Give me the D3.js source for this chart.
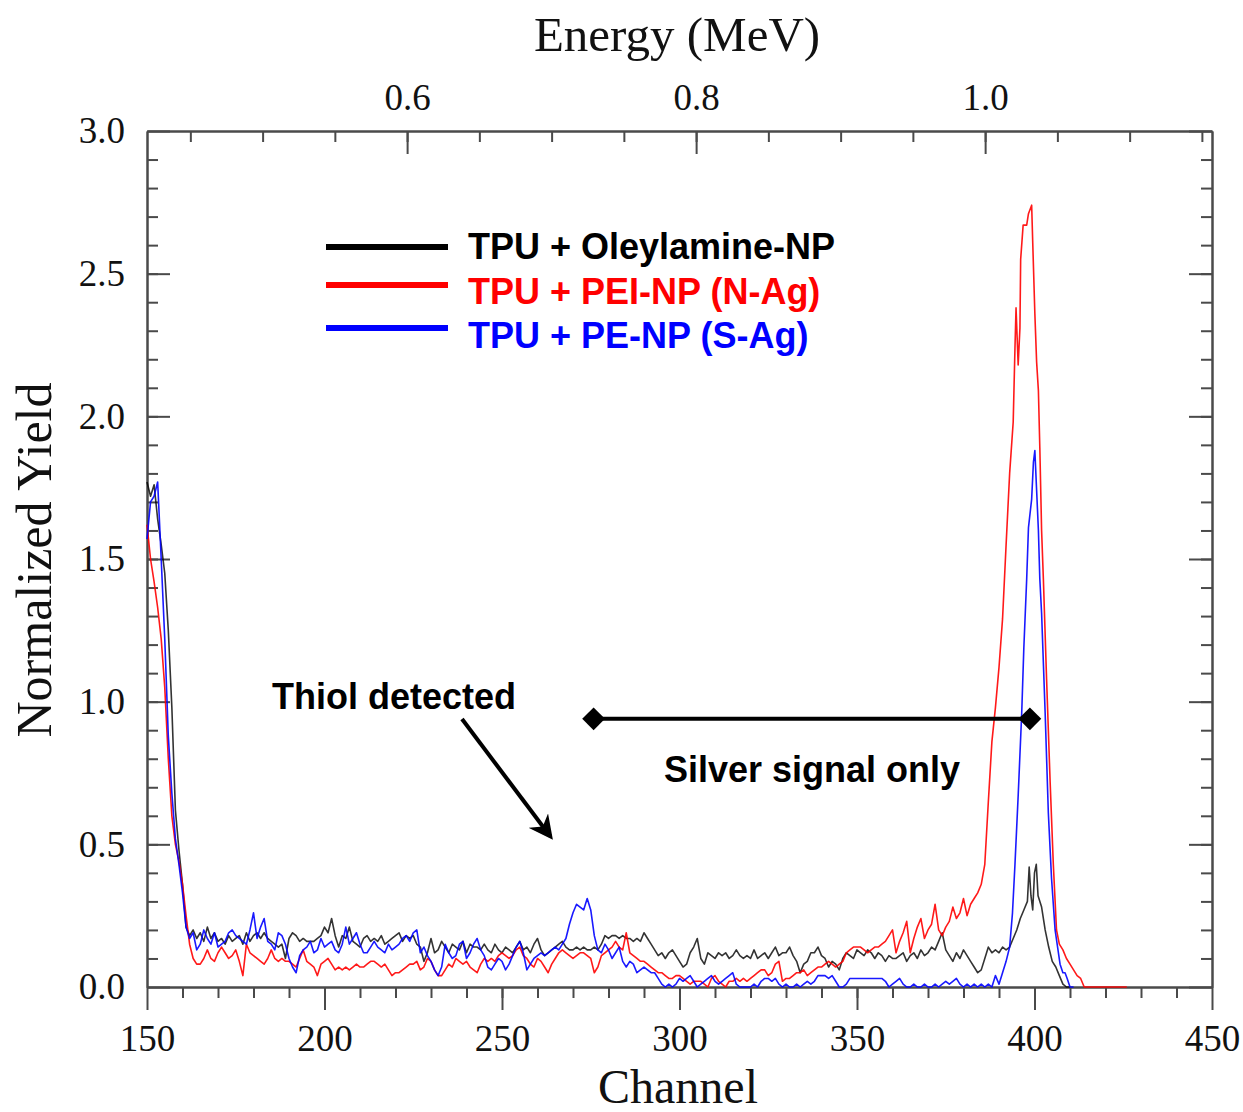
<!DOCTYPE html>
<html>
<head>
<meta charset="utf-8">
<script src="https://cdn.jsdelivr.net/npm/d3@7"></script>
<style>
  body { margin: 0; background: #fff; }
  svg { display: block; }
</style>
</head>
<body>
<div id="chart"></div>
<script>
// channel ranges / tick values
var channelDomain = [150, 450];
var yieldDomain = [0, 3];
var energyDomain = [0.42, 1.157];
var channelTicks = [150, 200, 250, 300, 350, 400, 450];
var yieldTicks = [0, 0.5, 1, 1.5, 2, 2.5, 3];
var energyTicks = [0.6, 0.8, 1.0];

var seriesNames = ['TPU + Oleylamine-NP', 'TPU + PEI-NP (N-Ag)', 'TPU + PE-NP (S-Ag)'];
var seriesColors = ['#000000', '#ff0000', '#0000ff'];

// [channel, normalized yield]
var oleylamine = [
  [150,1.77],[151,1.72],[152,1.76],[153,1.64],[154,1.55],[155,1.45],[156,1.25],[157,0.98],[158,0.62],[159,0.48],
  [160,0.36],[161,0.21],[162,0.18],[163,0.20],[164,0.17],[165,0.19],[166,0.16],[167,0.21],[168,0.17],[169,0.19],
  [170,0.16],[171,0.17],[172,0.15],[173,0.18],[174,0.16],[175,0.17],[176,0.18],[177,0.15],[178,0.19],[179,0.16],
  [180,0.18],[181,0.19],[182,0.17],[183,0.19],[184,0.17],[185,0.16],[186,0.15],[187,0.14],[188,0.15],[189,0.10],
  [190,0.17],[191,0.19],[192,0.18],[193,0.16],[194,0.17],[195,0.16],[196,0.16],[197,0.16],[198,0.17],[199,0.18],
  [200,0.21],[201,0.19],[202,0.24],[203,0.18],[204,0.14],[205,0.18],[206,0.17],[207,0.21],[208,0.16],[209,0.15],
  [210,0.14],[211,0.17],[212,0.18],[213,0.16],[214,0.17],[215,0.16],[216,0.18],[217,0.15],[218,0.16],[219,0.17],
  [220,0.18],[221,0.19],[222,0.16],[223,0.18],[224,0.17],[225,0.18],[226,0.15],[227,0.14],[228,0.09],[229,0.12],
  [230,0.17],[231,0.12],[232,0.13],[233,0.16],[234,0.14],[235,0.12],[236,0.15],[237,0.14],[238,0.13],[239,0.16],
  [240,0.12],[241,0.15],[242,0.14],[243,0.14],[244,0.13],[245,0.15],[246,0.13],[247,0.12],[248,0.15],[249,0.13],
  [250,0.12],[251,0.14],[252,0.13],[253,0.12],[254,0.14],[255,0.16],[256,0.13],[257,0.14],[258,0.12],[259,0.15],
  [260,0.17],[261,0.13],[262,0.11],[263,0.12],[264,0.13],[265,0.14],[266,0.15],[267,0.16],[268,0.14],[269,0.13],
  [270,0.13],[271,0.14],[272,0.13],[273,0.14],[274,0.13],[275,0.13],[276,0.14],[277,0.13],[278,0.15],[279,0.18],
  [280,0.17],[281,0.18],[282,0.18],[283,0.17],[284,0.18],[285,0.17],[286,0.17],[287,0.16],[288,0.17],[289,0.16],
  [290,0.19],[291,0.17],[292,0.15],[293,0.13],[294,0.11],[295,0.12],[296,0.10],[297,0.12],[298,0.13],[299,0.11],
  [300,0.09],[301,0.07],[302,0.08],[303,0.12],[304,0.14],[305,0.17],[306,0.10],[307,0.08],[308,0.12],[309,0.11],
  [310,0.10],[311,0.12],[312,0.11],[313,0.12],[314,0.10],[315,0.11],[316,0.13],[317,0.11],[318,0.10],[319,0.11],
  [320,0.10],[321,0.13],[322,0.10],[323,0.11],[324,0.12],[325,0.10],[326,0.12],[327,0.14],[328,0.11],[329,0.12],
  [330,0.12],[331,0.14],[332,0.11],[333,0.09],[334,0.05],[335,0.08],[336,0.09],[337,0.12],[338,0.12],[339,0.14],
  [340,0.11],[341,0.10],[342,0.07],[343,0.09],[344,0.08],[345,0.06],[346,0.10],[347,0.12],[348,0.11],[349,0.10],
  [350,0.13],[351,0.12],[352,0.11],[353,0.13],[354,0.12],[355,0.10],[356,0.12],[357,0.11],[358,0.09],[359,0.11],
  [360,0.10],[361,0.10],[362,0.11],[363,0.12],[364,0.09],[365,0.11],[366,0.12],[367,0.10],[368,0.13],[369,0.11],
  [370,0.12],[371,0.14],[372,0.13],[373,0.16],[374,0.19],[375,0.13],[376,0.11],[377,0.09],[378,0.12],[379,0.10],
  [380,0.13],[381,0.11],[382,0.09],[383,0.07],[384,0.05],[385,0.06],[386,0.10],[387,0.14],[388,0.12],[389,0.13],
  [390,0.12],[391,0.14],[392,0.13],[393,0.14],[394,0.17],[395,0.20],[396,0.24],[397,0.27],[398,0.30],[398.5,0.42],
  [399,0.32],[399.5,0.27],[400,0.40],[400.5,0.43],[401,0.32],[402,0.28],[403,0.20],[404,0.14],[405,0.09],[406,0.07],
  [407,0.04],[408,0.01],[409,0.0],[410,0.0]
];

var peiNP = [
  [150,1.62],[151,1.50],[152,1.42],[153,1.33],[154,1.22],[155,1.05],[156,0.80],[157,0.60],[158,0.50],[159,0.44],
  [160,0.36],[161,0.25],[162,0.15],[163,0.10],[164,0.08],[165,0.08],[166,0.10],[167,0.13],[168,0.10],[169,0.09],
  [170,0.12],[171,0.14],[172,0.12],[173,0.10],[174,0.11],[175,0.13],[176,0.09],[177,0.04],[178,0.15],[179,0.12],
  [180,0.11],[181,0.10],[182,0.09],[183,0.08],[184,0.10],[185,0.13],[186,0.10],[187,0.09],[188,0.10],[189,0.09],
  [190,0.09],[191,0.08],[192,0.07],[193,0.10],[194,0.13],[195,0.09],[196,0.08],[197,0.07],[198,0.04],[199,0.08],
  [200,0.09],[201,0.10],[202,0.08],[203,0.06],[204,0.07],[205,0.06],[206,0.07],[207,0.06],[208,0.07],[209,0.08],
  [210,0.07],[211,0.07],[212,0.08],[213,0.09],[214,0.09],[215,0.08],[216,0.07],[217,0.08],[218,0.06],[219,0.04],
  [220,0.05],[221,0.05],[222,0.06],[223,0.07],[224,0.08],[225,0.08],[226,0.09],[227,0.06],[228,0.07],[229,0.10],
  [230,0.09],[231,0.06],[232,0.04],[233,0.04],[234,0.06],[235,0.08],[236,0.07],[237,0.10],[238,0.09],[239,0.08],
  [240,0.09],[241,0.07],[242,0.06],[243,0.05],[244,0.08],[245,0.10],[246,0.09],[247,0.10],[248,0.09],[249,0.11],
  [250,0.12],[251,0.11],[252,0.10],[253,0.11],[254,0.13],[255,0.14],[256,0.11],[257,0.10],[258,0.08],[259,0.07],
  [260,0.10],[261,0.09],[262,0.07],[263,0.05],[264,0.08],[265,0.10],[266,0.12],[267,0.13],[268,0.12],[269,0.11],
  [270,0.10],[271,0.11],[272,0.12],[273,0.12],[274,0.11],[275,0.10],[276,0.05],[277,0.07],[278,0.11],[279,0.12],
  [280,0.13],[281,0.14],[282,0.16],[283,0.14],[284,0.13],[285,0.19],[286,0.12],[287,0.11],[288,0.10],[289,0.09],
  [290,0.09],[291,0.08],[292,0.07],[293,0.06],[294,0.05],[295,0.05],[296,0.04],[297,0.03],[298,0.03],[299,0.04],
  [300,0.04],[301,0.03],[302,0.02],[303,0.01],[304,0.02],[305,0.02],[306,0.02],[307,0.01],[308,0.0],[309,0.03],
  [310,0.04],[311,0.02],[312,0.01],[313,0.0],[314,0.02],[315,0.02],[316,0.03],[317,0.02],[318,0.03],[319,0.02],
  [320,0.03],[321,0.04],[322,0.05],[323,0.06],[324,0.06],[325,0.04],[326,0.05],[327,0.08],[328,0.09],[329,0.02],
  [330,0.03],[331,0.03],[332,0.04],[333,0.05],[334,0.05],[335,0.06],[336,0.04],[337,0.05],[338,0.06],[339,0.07],
  [340,0.07],[341,0.08],[342,0.09],[343,0.08],[344,0.07],[345,0.08],[346,0.09],[347,0.12],[348,0.13],[349,0.14],
  [350,0.14],[351,0.14],[352,0.13],[353,0.12],[354,0.13],[355,0.14],[356,0.14],[357,0.15],[358,0.16],[359,0.18],
  [360,0.20],[361,0.12],[362,0.16],[363,0.19],[364,0.23],[365,0.12],[366,0.17],[367,0.21],[368,0.24],[369,0.17],
  [370,0.20],[371,0.22],[372,0.29],[373,0.20],[374,0.18],[375,0.21],[376,0.23],[377,0.28],[378,0.24],[379,0.26],
  [380,0.31],[381,0.25],[382,0.29],[383,0.31],[384,0.33],[385,0.36],[386,0.43],[387,0.65],[388,0.86],[389,0.98],
  [390,1.12],[391,1.29],[392,1.55],[393,1.80],[394,1.98],[394.5,2.24],[394.8,2.38],[395.4,2.18],[395.9,2.31],[396.1,2.55],
  [396.8,2.67],[397.8,2.67],[398.3,2.71],[399.2,2.74],[399.5,2.61],[400.1,2.36],[400.6,2.19],[401.1,2.09],[401.5,1.89],[402,1.60],
  [402.5,1.43],[403.4,1.08],[404.4,0.72],[405.3,0.43],[406.2,0.20],[407,0.15],[408,0.13],[409,0.10],[410,0.08],[411,0.06],
  [412,0.04],[413,0.03],[414,0.0],[420,0.0],[426,0.0]
];

var peNP = [
  [150,1.57],[151,1.70],[152,1.72],[153,1.77],[154,1.50],[155,1.22],[156,0.88],[157,0.68],[158,0.52],[159,0.43],
  [160,0.33],[161,0.21],[162,0.17],[163,0.19],[164,0.13],[165,0.15],[166,0.20],[167,0.17],[168,0.15],[169,0.19],
  [170,0.14],[171,0.15],[172,0.16],[173,0.19],[174,0.20],[175,0.18],[176,0.17],[177,0.16],[178,0.15],[179,0.20],
  [180,0.26],[181,0.17],[182,0.21],[183,0.24],[184,0.16],[185,0.15],[186,0.13],[187,0.19],[188,0.18],[189,0.15],
  [190,0.10],[191,0.07],[192,0.05],[193,0.11],[194,0.13],[195,0.14],[196,0.16],[197,0.12],[198,0.13],[199,0.17],
  [200,0.14],[201,0.15],[202,0.16],[203,0.13],[204,0.12],[205,0.15],[206,0.21],[207,0.15],[208,0.17],[209,0.19],
  [210,0.15],[211,0.12],[212,0.12],[213,0.14],[214,0.16],[215,0.14],[216,0.13],[217,0.12],[218,0.15],[219,0.13],
  [220,0.14],[221,0.15],[222,0.17],[223,0.18],[224,0.16],[225,0.19],[226,0.20],[227,0.12],[228,0.14],[229,0.11],
  [230,0.09],[231,0.06],[232,0.04],[233,0.07],[234,0.15],[235,0.12],[236,0.10],[237,0.11],[238,0.15],[239,0.16],
  [240,0.10],[241,0.12],[242,0.15],[243,0.17],[244,0.13],[245,0.11],[246,0.07],[247,0.06],[248,0.08],[249,0.10],
  [250,0.09],[251,0.06],[252,0.08],[253,0.11],[254,0.14],[255,0.16],[256,0.12],[257,0.06],[258,0.08],[259,0.10],
  [260,0.11],[261,0.12],[262,0.11],[263,0.12],[264,0.13],[265,0.14],[266,0.13],[267,0.15],[268,0.17],[269,0.22],
  [270,0.26],[271,0.29],[272,0.28],[273,0.27],[274,0.31],[275,0.27],[276,0.18],[277,0.13],[278,0.12],[279,0.15],
  [280,0.13],[281,0.10],[282,0.12],[283,0.14],[284,0.09],[285,0.07],[286,0.09],[287,0.08],[288,0.05],[289,0.06],
  [290,0.07],[291,0.06],[292,0.05],[293,0.05],[294,0.03],[295,0.01],[296,0.0],[297,0.01],[298,0.0],[299,0.01],
  [300,0.03],[301,0.02],[302,0.03],[303,0.04],[304,0.02],[305,0.0],[306,0.01],[307,0.02],[308,0.03],[309,0.04],
  [310,0.02],[311,0.01],[312,0.02],[313,0.03],[314,0.04],[315,0.05],[316,0.01],[317,0.0],[318,0.0],[319,0.0],
  [320,0.0],[321,0.01],[322,0.0],[323,0.02],[324,0.03],[325,0.03],[326,0.02],[327,0.03],[328,0.01],[329,0.0],
  [330,0.01],[331,0.0],[332,0.0],[333,0.01],[334,0.0],[335,0.01],[336,0.02],[337,0.01],[338,0.02],[339,0.04],
  [340,0.04],[341,0.04],[342,0.03],[343,0.04],[344,0.02],[345,0.0],[346,0.0],[347,0.01],[348,0.03],[349,0.03],
  [350,0.03],[351,0.03],[352,0.03],[353,0.03],[354,0.03],[355,0.03],[356,0.03],[357,0.03],[358,0.02],[359,0.0],
  [360,0.01],[361,0.02],[362,0.03],[363,0.01],[364,0.0],[365,0.0],[366,0.01],[367,0.0],[368,0.0],[369,0.01],
  [370,0.0],[371,0.0],[372,0.01],[373,0.0],[374,0.01],[375,0.02],[376,0.01],[377,0.02],[378,0.03],[379,0.01],
  [380,0.0],[381,0.01],[382,0.0],[383,0.01],[384,0.0],[385,0.01],[386,0.0],[387,0.01],[388,0.0],[389,0.04],
  [390,0.01],[391,0.05],[392,0.09],[393,0.14],[393.8,0.26],[394.5,0.43],[395.4,0.67],[396.4,0.96],[397,1.19],[397.8,1.43],
  [398.3,1.61],[399.2,1.71],[399.7,1.84],[400.1,1.88],[400.6,1.74],[401.1,1.60],[401.5,1.43],[402,1.31],[403,0.96],[403.9,0.61],
  [404.8,0.38],[405.8,0.20],[407.2,0.08],[408,0.05],[408.6,0.05],[409.2,0.03],[410,0.0],[411,0.0]
];

var allSeries = [oleylamine, peiNP, peNP];

// annotation anchors, in data units
var silverBar = [[275.8, 0.94], [398.7, 0.94]];

var width = 1243, height = 1112;
var margin = { left: 147, right: 31, top: 131, bottom: 125 };

var svg = d3.select('#chart').append('svg')
  .attr('width', width)
  .attr('height', height);

var x = d3.scaleLinear().domain(channelDomain).range([margin.left, width - margin.right]);
var y = d3.scaleLinear().domain(yieldDomain).range([height - margin.bottom, margin.top]);
var xE = d3.scaleLinear().domain(energyDomain).range([margin.left, width - margin.right]);

var serif = "'Liberation Serif', 'Times New Roman', serif";
var sans = "'Liberation Sans', Arial, sans-serif";
var axisColor = '#4a4a4a';

var styleAxis = function(g) {
  g.selectAll('.domain').attr('stroke', axisColor).attr('stroke-width', 2);
  g.selectAll('.tick line').attr('stroke', axisColor).attr('stroke-width', 2);
  g.selectAll('.tick text')
    .attr('fill', '#111')
    .attr('font-family', serif)
    .attr('font-size', 37);
};

var range = function(a, b, step) {
  return d3.range(a, b + step / 2, step).map(function(v) { return +v.toFixed(3); });
};

// bottom axis (ticks outside)
svg.append('g')
  .attr('transform', 'translate(0,' + y(0) + ')')
  .call(d3.axisBottom(x).tickValues(range(160, 440, 10)).tickSize(11).tickSizeOuter(0).tickFormat(''))
  .call(styleAxis);
svg.append('g')
  .attr('transform', 'translate(0,' + y(0) + ')')
  .call(d3.axisBottom(x).tickValues(channelTicks).tickSize(23).tickSizeOuter(0).tickPadding(15).tickFormat(d3.format('d')))
  .call(styleAxis);

// left axis (ticks inside)
svg.append('g')
  .attr('transform', 'translate(' + x(150) + ',0)')
  .call(d3.axisLeft(y).tickValues(range(0.1, 2.9, 0.1)).tickSize(-11).tickSizeOuter(0).tickFormat(''))
  .call(styleAxis);
svg.append('g')
  .attr('transform', 'translate(' + x(150) + ',0)')
  .call(d3.axisLeft(y).tickValues(yieldTicks).tickSize(-23).tickSizeOuter(0).tickPadding(22).tickFormat(d3.format('.1f')))
  .call(styleAxis);

// right axis (ticks inside, no labels)
svg.append('g')
  .attr('transform', 'translate(' + x(450) + ',0)')
  .call(d3.axisLeft(y).tickValues(range(0.1, 2.9, 0.1)).tickSize(11).tickSizeOuter(0).tickFormat(''))
  .call(styleAxis);
svg.append('g')
  .attr('transform', 'translate(' + x(450) + ',0)')
  .call(d3.axisLeft(y).tickValues(yieldTicks).tickSize(23).tickSizeOuter(0).tickFormat(''))
  .call(styleAxis);

// top energy axis (ticks inside)
svg.append('g')
  .attr('transform', 'translate(0,' + y(3) + ')')
  .call(d3.axisTop(xE).tickValues(range(0.45, 1.15, 0.05)).tickSize(-11).tickSizeOuter(0).tickFormat(''))
  .call(styleAxis);
svg.append('g')
  .attr('transform', 'translate(0,' + y(3) + ')')
  .call(d3.axisTop(xE).tickValues(energyTicks).tickSize(-23).tickSizeOuter(0).tickPadding(21).tickFormat(d3.format('.1f')))
  .call(styleAxis);

// axis titles
svg.append('text')
  .attr('x', 677).attr('y', 51)
  .attr('text-anchor', 'middle')
  .attr('font-family', serif).attr('font-size', 49).attr('fill', '#111')
  .text('Energy (MeV)');

svg.append('text')
  .attr('x', 678).attr('y', 1103)
  .attr('text-anchor', 'middle')
  .attr('font-family', serif).attr('font-size', 48).attr('fill', '#111')
  .text('Channel');

svg.append('text')
  .attr('transform', 'translate(51,560) rotate(-90)')
  .attr('text-anchor', 'middle')
  .attr('font-family', serif).attr('font-size', 50).attr('fill', '#111')
  .text('Normalized Yield');

// data lines
var line = d3.line()
  .x(function(d) { return x(d[0]); })
  .y(function(d) { return y(d[1]); });

allSeries.forEach(function(s, i) {
  svg.append('path')
    .datum(s)
    .attr('fill', 'none')
    .attr('stroke', seriesColors[i])
    .attr('stroke-opacity', i === 0 ? 0.8 : 0.9)
    .attr('stroke-width', 1.6)
    .attr('stroke-linejoin', 'round')
    .attr('d', line);
});

// legend
var legendY = [247, 285, 328];
var legendTextY = [259, 304, 348];
seriesNames.forEach(function(name, i) {
  svg.append('line')
    .attr('x1', 326).attr('x2', 448)
    .attr('y1', legendY[i]).attr('y2', legendY[i])
    .attr('stroke', seriesColors[i])
    .attr('stroke-width', 6);
  svg.append('text')
    .attr('x', 468).attr('y', legendTextY[i])
    .attr('font-family', sans).attr('font-weight', 'bold').attr('font-size', 36)
    .attr('fill', seriesColors[i])
    .text(name);
});

// annotations
svg.append('defs').append('marker')
  .attr('id', 'arrow')
  .attr('viewBox', '0 0 10 10')
  .attr('refX', 8).attr('refY', 5)
  .attr('markerWidth', 6).attr('markerHeight', 6)
  .attr('orient', 'auto')
  .append('path')
  .attr('d', 'M0,0 L10,5 L0,10 L3,5 Z')
  .attr('fill', '#000');

svg.append('text')
  .attr('x', 272).attr('y', 709)
  .attr('font-family', sans).attr('font-weight', 'bold').attr('font-size', 36)
  .attr('fill', '#000')
  .text('Thiol detected');

svg.append('line')
  .attr('x1', 462).attr('y1', 719)
  .attr('x2', 550).attr('y2', 836)
  .attr('stroke', '#000').attr('stroke-width', 4)
  .attr('marker-end', 'url(#arrow)');

svg.append('line')
  .attr('x1', x(silverBar[0][0])).attr('y1', y(silverBar[0][1]))
  .attr('x2', x(silverBar[1][0])).attr('y2', y(silverBar[1][1]))
  .attr('stroke', '#000').attr('stroke-width', 4);

svg.selectAll('.diamond')
  .data(silverBar)
  .enter().append('path')
  .attr('class', 'diamond')
  .attr('transform', function(d) { return 'translate(' + x(d[0]) + ',' + y(d[1]) + ')'; })
  .attr('d', d3.symbol().type(d3.symbolDiamond2).size(330))
  .attr('fill', '#000');

svg.append('text')
  .attr('x', 664).attr('y', 782)
  .attr('font-family', sans).attr('font-weight', 'bold').attr('font-size', 36)
  .attr('fill', '#000')
  .text('Silver signal only');
</script>
</body>
</html>
